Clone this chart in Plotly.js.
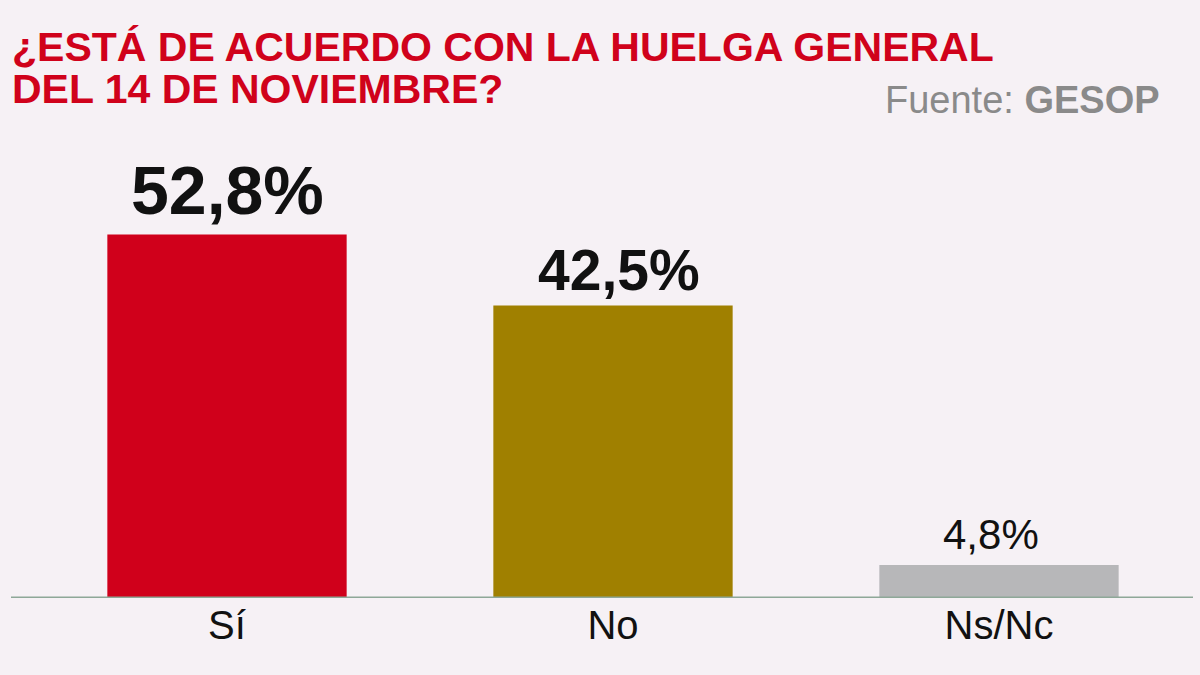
<!DOCTYPE html>
<html>
<head>
<meta charset="utf-8">
<script src="https://cdn.plot.ly/plotly-3.0.1.min.js"></script>
<style>html,body{margin:0;padding:0;background:#f6f1f5;}#chart{width:1200px;height:675px;}</style>
</head>
<body>
<div id="chart"></div>
<script>
const categories = ["Sí", "No", "Ns/Nc"];
const values = [52.8, 42.5, 4.8];
const barColors = ["#d0001b", "#a08000", "#b7b7b9"];
const labelSizes = [68, 57, 42];
const labelShifts = [5, 2, 5];
const labelXShifts = [0, 6, -8];
const labelWeights = ["bold", "bold", "normal"];
const titleLine1 = "¿ESTÁ DE ACUERDO CON LA HUELGA GENERAL";
const titleLine2 = "DEL 14 DE NOVIEMBRE?";

const fmt = v => v.toFixed(1).replace(".", ",") + "%";
const FONT = "Liberation Sans, Arial, Helvetica, sans-serif";

const L = 34, R = 8, T = 130, B = 77, W = 1200, H = 675;
const pw = W - L - R, ph = H - T - B;
const toPaperX = px => (px - L) / pw;
const toPaperY = py => (H - B - py) / ph;

const annotations = categories.map((c, i) => ({
  x: c, y: values[i], xref: "x", yref: "y",
  text: fmt(values[i]), showarrow: false,
  xanchor: "center", yanchor: "bottom", yshift: labelShifts[i], xshift: labelXShifts[i],
  font: {family: FONT, size: labelSizes[i], color: "#111", weight: labelWeights[i]}
}));
annotations.push({
  xref: "paper", yref: "paper", x: toPaperX(1162), y: toPaperY(100),
  xanchor: "right", yanchor: "middle", showarrow: false,
  text: "Fuente: <b>GESOP</b>",
  font: {family: FONT, size: 38, color: "#8a8a8a"}
});
annotations.push({
  xref: "paper", yref: "paper", x: toPaperX(10), y: toPaperY(89),
  xanchor: "left", yanchor: "middle", showarrow: false,
  text: titleLine2,
  font: {family: FONT, size: 41, color: "#d0021b", weight: "bold"}
});

const data = [{
  type: "bar", x: categories, y: values,
  marker: {color: barColors, line: {width: 0}},
  hoverinfo: "none"
}];

const layout = {
  width: W, height: H,
  paper_bgcolor: "#f6f1f5", plot_bgcolor: "#f6f1f5",
  margin: {l: L, r: R, t: T, b: B, pad: 0},
  bargap: 0.38,
  showlegend: false,
  title: {
    text: titleLine1, x: 12 / W, xanchor: "left", xref: "container",
    y: 1 - 47 / H, yanchor: "middle", yref: "container",
    font: {family: FONT, size: 41, color: "#d0021b", weight: "bold"}
  },
  xaxis: {
    showgrid: false, zeroline: false, showline: false, ticks: "",
    tickfont: {family: FONT, size: 40, color: "#111"},
    fixedrange: true
  },
  yaxis: {
    range: [0, 68], visible: false, showgrid: false, zeroline: false, fixedrange: true
  },
  shapes: [{
    type: "line", xref: "paper", yref: "y",
    x0: toPaperX(11), x1: toPaperX(1193), y0: 0, y1: 0,
    line: {color: "#8ea898", width: 3}, layer: "above"
  }],
  annotations: annotations
};

Plotly.newPlot("chart", data, layout, {displayModeBar: false, staticPlot: true});
</script>
</body>
</html>
